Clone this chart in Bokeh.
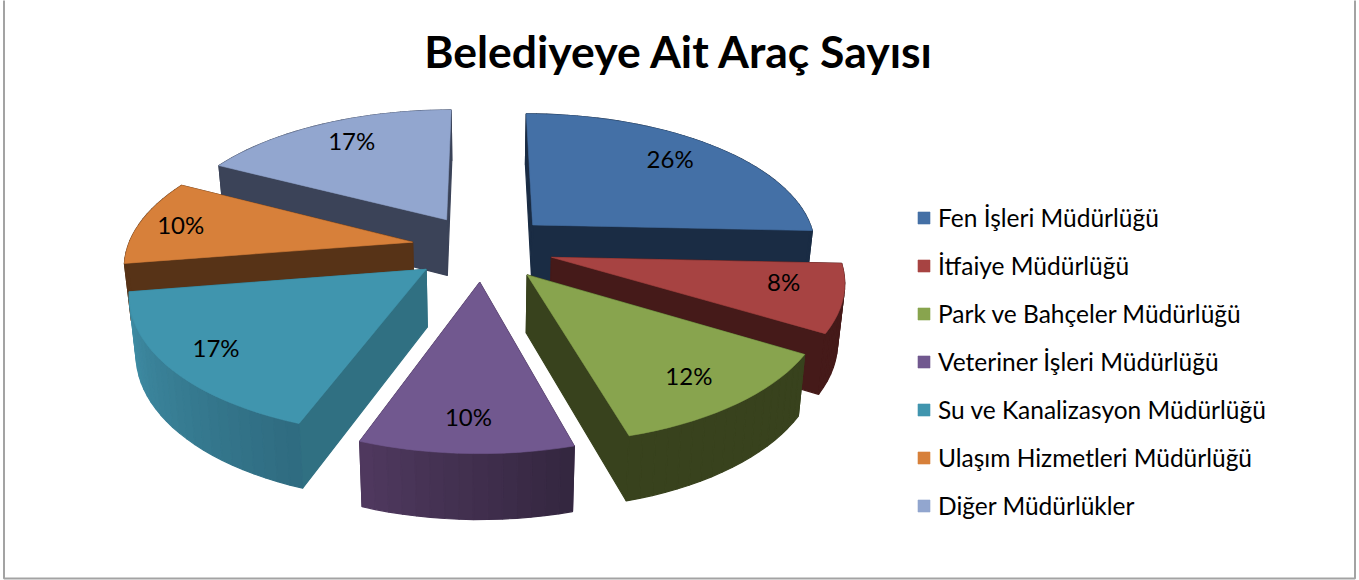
import math
from bokeh.plotting import figure
from bokeh.models import ColumnDataSource, Legend, LegendItem
from bokeh.core.properties import value
from bokeh.embed import file_html
from bokeh.resources import INLINE

title_text = "Belediyeye Ait Araç Sayısı"
categories = ["Fen İşleri Müdürlüğü", "İtfaiye Müdürlüğü", "Park ve Bahçeler Müdürlüğü",
              "Veteriner İşleri Müdürlüğü", "Su ve Kanalizasyon Müdürlüğü",
              "Ulaşım Hizmetleri Müdürlüğü", "Diğer Müdürlükler"]
shares = [25.7, 7.9, 12.0, 10.0, 16.9, 10.1, 17.4]

top_colors = ["#4470A6", "#A74342", "#88A44E", "#71588F", "#4095AE", "#D7803A", "#92A6CF"]
wall_colors = ["#1A2C44", "#451A19", "#38421D", "#4A3659", "#307082", "#573317", "#3B4358"]
rim_left = ["#1A2C44", "#451A19", "#38421D", "#50395F", "#4090A8", "#573317", "#3B4358"]
rim_right = ["#1A2C44", "#451A19", "#38421D", "#33263F", "#2F6B80", "#573317", "#3B4358"]
draw_order = [6, 0, 5, 1, 4, 2, 3]
label_nudge = [(-4, -3), (7, -8), (3, 3), (-1, 6), (-15, 3), (-19, -2), (4, -3)]

CX, CY, RX, RY, K, H, BK, EXPL, LABEL_R = 482, 247, 285, 134, 0.15, 58, 0.02, 0.25, 0.78
FONT = "Lato"


def project(X, Y, Z=0.0):
    w = (1 + K * Y) * (1 + BK * Z)
    return CX + RX * X / w, CY - RY * Y / w + H * Z / w


def mix(a, b, t):
    ca = [int(a[i:i + 2], 16) for i in (1, 3, 5)]
    cb = [int(b[i:i + 2], 16) for i in (1, 3, 5)]
    return "#%02x%02x%02x" % tuple(round(u + (v - u) * t) for u, v in zip(ca, cb))


p = figure(width=1359, height=580, x_range=(0, 1359), y_range=(580, 0),
           x_axis_type=None, y_axis_type=None, toolbar_location=None,
           output_backend="svg", min_border=0, outline_line_color=None)
p.grid.visible = False

p.quad(left=[3.5], right=[1354.5], top=[-3], bottom=[578], fill_color=None,
       line_color="#A3A3A3", line_width=2)

total = sum(shares)
bounds = [0.0]
for s in shares:
    bounds.append(bounds[-1] + 2 * math.pi * s / total)

top_renderers = {}
lab_x, lab_y, lab_t = [], [], []
for i in draw_order:
    a0, a1 = bounds[i], bounds[i + 1]
    mid = (a0 + a1) / 2
    ox, oy = EXPL * math.sin(mid), EXPL * math.cos(mid)
    n = max(4, int((a1 - a0) * 24))
    angs = [a0 + (a1 - a0) * j / n for j in range(n + 1)]
    rim = [(ox + math.sin(a), oy + math.cos(a)) for a in angs]

    faces = []
    for (P, Q) in (((ox, oy), rim[0]), ((ox, oy), rim[-1])):
        faces.append(((P[1] + Q[1]) / 2, [P, Q], wall_colors[i]))
    for j in range(n):
        t = 1 - (j + 0.5) / n  # clockwise on the front of the pie runs right to left
        faces.append(((rim[j][1] + rim[j + 1][1]) / 2, [rim[j], rim[j + 1]],
                      mix(rim_left[i], rim_right[i], t)))
    faces.sort(key=lambda f: -f[0])
    xs, ys, cs = [], [], []
    for _, (P, Q), c in faces:
        pts = [project(P[0], P[1]), project(Q[0], Q[1]),
               project(Q[0], Q[1], 1.0), project(P[0], P[1], 1.0)]
        xs.append([q[0] for q in pts])
        ys.append([q[1] for q in pts])
        cs.append(c)
    p.patches("xs", "ys", source=ColumnDataSource(dict(xs=xs, ys=ys, c=cs)),
              fill_color="c", line_color="c", line_width=1.2)

    pts = [project(ox, oy)] + [project(u, v) for u, v in rim]
    top_renderers[i] = p.patch([q[0] for q in pts], [q[1] for q in pts],
                               fill_color=top_colors[i], line_color=top_colors[i],
                               line_width=0.6)
    lx, ly = project(ox + LABEL_R * math.sin(mid), oy + LABEL_R * math.cos(mid))
    lab_x.append(lx + label_nudge[i][0])
    lab_y.append(ly + label_nudge[i][1])
    lab_t.append(f"{round(shares[i])}%")

p.text(lab_x, lab_y, text=lab_t, text_font=value(FONT), text_font_size="24px",
       text_color="#000000", text_align="center", text_baseline="middle")

p.text([679], [50], text=[title_text], text_font=value(FONT), text_font_size="44.5px",
       text_font_style="bold", text_color="#000000", text_align="center",
       text_baseline="middle")

legend = Legend(
    items=[LegendItem(label=c, renderers=[top_renderers[i]]) for i, c in enumerate(categories)],
    location=(916, 60), orientation="vertical", background_fill_alpha=0,
    border_line_color=None, padding=0, margin=0, spacing=19, glyph_width=15, glyph_height=15,
    label_standoff=7, label_text_font=FONT, label_text_font_size="24.5px",
    label_text_color="#000000", label_height=28)
p.add_layout(legend)

open("out.html", "w").write(file_html(p, INLINE))
